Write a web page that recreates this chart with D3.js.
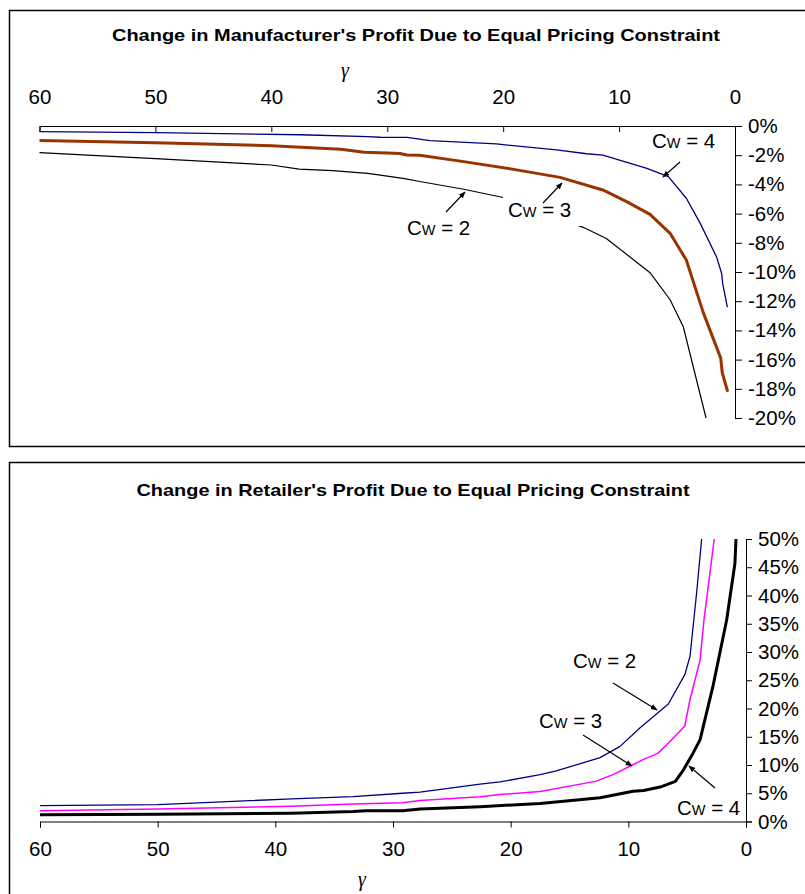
<!DOCTYPE html>
<html>
<head>
<meta charset="utf-8">
<script src="https://cdn.jsdelivr.net/npm/d3@7"></script>
<style>
	body { margin: 0; background: #fff; }
	svg { display: block; font-family: "Liberation Sans", Arial, sans-serif; }
</style>
</head>
<body>
<svg id="chart" width="805" height="894"></svg>
<script>
"use strict";

// gamma ticks shared by both charts
var gammaTicks = [60, 50, 40, 30, 20, 10, 0];
var manufTicks = [0, -2, -4, -6, -8, -10, -12, -14, -16, -18, -20];
var retailTicks = [0, 5, 10, 15, 20, 25, 30, 35, 40, 45, 50];

// manufacturer profit change (%), gamma -> value
var manufGammaCw4 = [60, 50, 37.5, 31.7, 30.6, 28.3, 26.3, 20.6, 15.4, 12.8, 11.4, 7.6, 5.75, 4.2, 3.0, 1.6, 1.15, 1.06, 0.66];
var manufCw4 = [-0.39, -0.46, -0.6, -0.73, -0.77, -0.78, -1.0, -1.23, -1.64, -1.9, -2.0, -2.9, -3.47, -4.95, -6.67, -8.95, -10.1, -10.8, -12.4];
var manufGammaCw3 = [60, 50, 40, 34, 32, 30, 28.9, 28.3, 27.2, 23.4, 19.1, 15.1, 11.4, 9.35, 7.33, 5.6, 4.2, 2.73, 1.23, 1.1, 0.63];
var manufCw3 = [-1.0, -1.14, -1.35, -1.6, -1.8, -1.85, -1.88, -1.99, -2.0, -2.44, -2.97, -3.52, -4.38, -5.18, -6.05, -7.35, -9.18, -12.8, -15.9, -16.9, -18.2];
var manufGammaCw2 = [60, 50, 40, 37.6, 34.7, 31.7, 30.6, 28.5, 27.2, 23.4, 20.1, 13.1, 11.1, 7.33, 5.6, 4.46, 2.5];
var manufCw2 = [-1.83, -2.24, -2.67, -2.95, -3.06, -3.24, -3.36, -3.6, -3.8, -4.33, -4.88, -6.94, -7.7, -10.05, -11.9, -13.75, -20];

// retailer profit change (%)
var retailGammaCw2 = [60, 50, 38.6, 33.4, 29.2, 27.7, 22.6, 20.9, 17.5, 16.2, 12.4, 10.7, 9.0, 6.6, 5.2, 4.76, 4.2, 3.77];
var retailCw2 = [2.8, 3.0, 4.0, 4.4, 5.0, 5.2, 6.6, 7.0, 8.3, 8.9, 11.3, 13.3, 16.6, 20.8, 26.0, 29.2, 40.4, 50];
var retailGammaCw3 = [60, 50, 38.6, 33.4, 29.2, 27.7, 22.6, 20.9, 17.5, 12.8, 11.3, 8.7, 7.46, 6.3, 5.2, 4.76, 3.9, 3.57, 3.2, 2.7];
var retailCw3 = [1.9, 2.2, 2.7, 3.1, 3.3, 3.7, 4.4, 4.77, 5.3, 7.1, 8.3, 11.0, 12.1, 14.5, 16.9, 21.6, 28.6, 35.7, 41.7, 50];
var retailGammaCw4 = [60, 50, 38.6, 33.4, 32.3, 29.2, 27.7, 22.6, 17.5, 12.4, 9.6, 8.7, 7.3, 6.0, 5.3, 4.5, 3.9, 2.8, 1.64, 0.94, 0.85];
var retailCw4 = [1.2, 1.3, 1.45, 1.75, 1.9, 1.9, 2.2, 2.6, 3.2, 4.2, 5.36, 5.5, 6.1, 7.1, 9.2, 12.1, 14.5, 24, 35.7, 45.7, 50];

var svg = d3.select("#chart");

svg.append("defs").append("marker")
	.attr("id", "arrow")
	.attr("viewBox", "0 0 10 10")
	.attr("refX", 9).attr("refY", 5)
	.attr("markerWidth", 7).attr("markerHeight", 7)
	.attr("markerUnits", "userSpaceOnUse")
	.attr("orient", "auto")
	.append("path").attr("d", "M0,1 L10,5 L0,9 Z").attr("fill", "#000");

function pairs(gs, vs) {
	return gs.map(function(g, i) { return [g, vs[i]]; });
}

function styleAxis(g) {
	g.selectAll("path, line").attr("stroke", "#000").attr("stroke-width", 1);
	g.selectAll("text").attr("fill", "#000").style("font-size", "20.5px").style("font-family", "Liberation Sans, Arial, sans-serif");
}

function cwLabel(parent, x, y, n) {
	var t = parent.append("text").attr("x", x).attr("y", y).style("font-size", "20.5px");
	t.append("tspan").text("C");
	t.append("tspan").style("font-size", "14.5px").text("W");
	t.append("tspan").text(" = " + n);
	return t;
}

function arrow(parent, x1, y1, x2, y2) {
	parent.append("line")
		.attr("x1", x1).attr("y1", y1).attr("x2", x2).attr("y2", y2)
		.attr("stroke", "#000").attr("stroke-width", 1.2)
		.attr("marker-end", "url(#arrow)");
}

// ---------- top panel ----------
svg.append("rect").attr("x", 9.5).attr("y", 10.5).attr("width", 810).attr("height", 436)
	.attr("fill", "none").attr("stroke", "#000").attr("stroke-width", 1.5);

var topPanel = svg.append("g");
var xTop = d3.scaleLinear().domain([60, 0]).range([39.5, 735]);
var yTop = d3.scaleLinear().domain([-20, 0]).range([418, 126]);

topPanel.append("text").attr("x", 416).attr("y", 41).attr("text-anchor", "middle")
	.style("font-size", "17px").style("font-weight", "bold")
	.attr("textLength", 608).attr("lengthAdjust", "spacingAndGlyphs")
	.text("Change in Manufacturer's Profit Due to Equal Pricing Constraint");
topPanel.append("text").attr("x", 345).attr("y", 77).attr("text-anchor", "middle")
	.style("font-size", "20px").style("font-style", "italic").style("font-family", "Liberation Serif, serif")
	.text("γ");

topPanel.append("g").attr("transform", "translate(0," + yTop(0) + ")")
	.call(d3.axisTop(xTop).tickValues(gammaTicks).tickSizeInner(-6).tickSizeOuter(-6).tickPadding(22))
	.call(styleAxis);
topPanel.append("g").attr("transform", "translate(" + xTop(0) + ",0)")
	.call(d3.axisRight(yTop).tickValues(manufTicks).tickSize(7).tickPadding(6).tickFormat(function(d) { return d + "%"; }))
	.call(styleAxis);

var lineTop = d3.line().x(function(d) { return xTop(d[0]); }).y(function(d) { return yTop(d[1]); });
var topSeries = [
	{ data: pairs(manufGammaCw2, manufCw2), color: "#000000", width: 1.2 },
	{ data: pairs(manufGammaCw4, manufCw4), color: "#000080", width: 1.3 },
	{ data: pairs(manufGammaCw3, manufCw3), color: "#993300", width: 3 }
];
topPanel.selectAll("path.series").data(topSeries).enter().append("path")
	.attr("class", "series")
	.attr("d", function(d) { return lineTop(d.data); })
	.attr("fill", "none")
	.attr("stroke", function(d) { return d.color; })
	.attr("stroke-width", function(d) { return d.width; })
	.attr("stroke-linejoin", "round");

// labels; Cw = 3 sits on a white box that hides part of the Cw = 2 line
topPanel.append("rect").attr("x", 503).attr("y", 196).attr("width", 80).attr("height", 30).attr("fill", "#fff");
cwLabel(topPanel, 652, 148, 4);
arrow(topPanel, 680, 162, 663, 177);
cwLabel(topPanel, 508, 217, 3);
arrow(topPanel, 543, 203, 562, 183);
cwLabel(topPanel, 407, 235, 2);
arrow(topPanel, 446, 212, 465, 192);

// ---------- bottom panel ----------
svg.append("rect").attr("x", 9.5).attr("y", 462.5).attr("width", 810).attr("height", 450)
	.attr("fill", "none").attr("stroke", "#000").attr("stroke-width", 1.5);

var botPanel = svg.append("g");
var xBot = d3.scaleLinear().domain([60, 0]).range([40, 746]);
var yBot = d3.scaleLinear().domain([0, 50]).range([821.5, 539]);

botPanel.append("text").attr("x", 413).attr("y", 496).attr("text-anchor", "middle")
	.style("font-size", "17px").style("font-weight", "bold")
	.attr("textLength", 553).attr("lengthAdjust", "spacingAndGlyphs")
	.text("Change in Retailer's Profit Due to Equal Pricing Constraint");
botPanel.append("text").attr("x", 362).attr("y", 886).attr("text-anchor", "middle")
	.style("font-size", "20px").style("font-style", "italic").style("font-family", "Liberation Serif, serif")
	.text("γ");

botPanel.append("g").attr("transform", "translate(0," + yBot(0) + ")")
	.call(d3.axisBottom(xBot).tickValues(gammaTicks).tickSize(6).tickPadding(14))
	.call(styleAxis);
botPanel.append("g").attr("transform", "translate(" + xBot(0) + ",0)")
	.call(d3.axisRight(yBot).tickValues(retailTicks).tickSize(6).tickPadding(6).tickFormat(function(d) { return d + "%"; }))
	.call(styleAxis);

var lineBot = d3.line().x(function(d) { return xBot(d[0]); }).y(function(d) { return yBot(d[1]); });
var botSeries = [
	{ data: pairs(retailGammaCw2, retailCw2), color: "#000080", width: 1.3 },
	{ data: pairs(retailGammaCw3, retailCw3), color: "#ff00ff", width: 1.5 },
	{ data: pairs(retailGammaCw4, retailCw4), color: "#000000", width: 3 }
];
botPanel.selectAll("path.series").data(botSeries).enter().append("path")
	.attr("class", "series")
	.attr("d", function(d) { return lineBot(d.data); })
	.attr("fill", "none")
	.attr("stroke", function(d) { return d.color; })
	.attr("stroke-width", function(d) { return d.width; })
	.attr("stroke-linejoin", "round");

cwLabel(botPanel, 573, 668, 2);
arrow(botPanel, 613, 683, 657, 710);
cwLabel(botPanel, 539, 728, 3);
arrow(botPanel, 583, 735, 632, 766);
cwLabel(botPanel, 677, 815, 4);
arrow(botPanel, 715, 788, 689, 766);
</script>
</body>
</html>
